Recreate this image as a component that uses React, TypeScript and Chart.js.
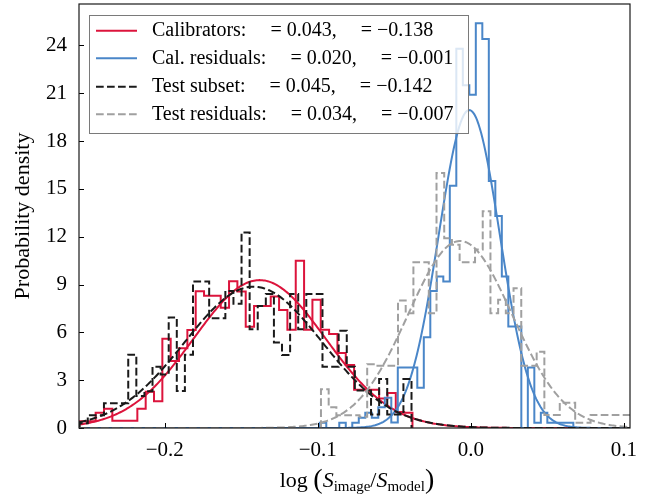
import React, { useEffect, useRef } from 'react';
import { Chart, registerables } from 'chart.js';

Chart.register(...registerables);

// ---- axis ranges ----
const X_MIN = -0.256;
const X_MAX = 0.104;
const Y_MAX = 26.6;
const X_STEP = 0.1;
const Y_STEP = 3;

// ---- legend text ----
const LABELS = ['Calibrators:', 'Cal. residuals:', 'Test subset:', 'Test residuals:'];
const SIGMAS = [0.043, 0.02, 0.045, 0.034];
const MUS = [-0.138, -0.001, -0.142, -0.007];

// ---- histograms (start edge, bin width, density per bin) ----
const CAL_START = -0.25601;
const CAL_WIDTH = 0.005447;
const CAL_HEIGHTS = [0.42, 0.42, 0.95, 1.2, 0.45, 0.45, 0.45, 1.2, 2.28, 1.68, 5.6, 4.2, 5.0, 6.15, 8.58, 8.3, 8.3, 7.55, 9.2, 8.56, 6.35, 7.66, 7.66, 8.25, 7.4, 6.16, 10.5, 6.16, 8.05, 6.16, 5.9, 4.7, 3.96, 2.4, 2.4, 2.4, 1.85, 2.2, 1.0, 0.95];

const RES_START = -0.09869;
const RES_WIDTH = 0.004248;
const RES_HEIGHTS = [0.33, 0, 0, 0.33, 0, 0.33, 0.65, 0.95, 0.65, 1.3, 1.9, 0.35, 3.8, 3.8, 3.8, 2.53, 5.7, 8.6, 9.5, 9.19, 15.2, 23.8, 21.5, 20.9, 25.4, 24.4, 15.5, 13.3, 9.5, 6.36, 6.36, 0, 3.79, 0.33, 0.96, 0.33, 0.33, 0.33, 0.33];

const TEST_START = -0.25556;
const TEST_WIDTH = 0.005288;
const TEST_HEIGHTS = [0.3, 0.8, 0.8, 1.55, 1.55, 1.55, 4.6, 2.0, 2.3, 3.85, 3.35, 6.93, 2.32, 4.6, 9.19, 9.19, 6.89, 6.89, 8.6, 7.8, 12.27, 6.2, 7.66, 8.4, 5.36, 4.58, 8.4, 6.2, 8.4, 8.4, 3.85, 3.85, 6.1, 3.85, 2.35, 2.35, 0.85, 3.07, 0.85, 0.85, 3.07];

const TRES_START = -0.09791;
const TRES_WIDTH = 0.005033;
const TRES_HEIGHTS = [2.43, 1.3, 0.8, 0.8, 0.8, 0.7, 4.0, 3.9, 3.9, 3.9, 8.0, 7.2, 10.4, 10.4, 7.2, 16.0, 11.9, 11.5, 10.4, 10.4, 11.2, 13.6, 7.2, 8.04, 7.2, 8.77, 3.9, 3.9, 4.79, 0.82, 0.82, 1.59, 1.59, 0.33, 0.33, 0.82, 0.82, 0.82, 0.82, 0.82, 0.82];

// ---- styles ----
const RED = '#dc143c';
const BLUE = '#4a86c8';
const BLACK = '#1a1a1a';
const GRAY = '#a0a0a0';
const COLORS = [RED, BLUE, BLACK, GRAY];
const DASHED = [false, false, true, true];
const DASH = [7.7, 3.3];
const SERIF = '"Liberation Serif", "Times New Roman", serif';

function stepPoints(start: number, width: number, heights: number[]) {
  const pts: { x: number; y: number }[] = [{ x: start, y: 0 }];
  heights.forEach((h, i) => {
    pts.push({ x: start + i * width, y: h });
    pts.push({ x: start + (i + 1) * width, y: h });
  });
  pts.push({ x: start + heights.length * width, y: 0 });
  return pts;
}

// Normal pdf drawn with the fitted mu and sigma shown in the legend
function normalCurve(mu: number, sigma: number) {
  const pts: { x: number; y: number }[] = [];
  const n = 400;
  for (let i = 0; i <= n; i++) {
    const x = X_MIN + ((X_MAX - X_MIN) * i) / n;
    const z = (x - mu) / sigma;
    pts.push({ x, y: Math.exp(-0.5 * z * z) / (sigma * Math.sqrt(2 * Math.PI)) });
  }
  return pts;
}

const fmtNum = (v: number, d: number) => {
  const s = Math.abs(v) < 1e-9 ? (0).toFixed(d) : v.toFixed(d);
  return s.replace('-', '\u2212');
};

const framePlugin = {
  id: 'frameTicks',
  afterDraw(chart: any) {
    const { ctx, chartArea } = chart;
    const { left, right, top, bottom } = chartArea;
    ctx.save();
    ctx.strokeStyle = '#000';
    ctx.lineWidth = 1;
    // inward ticks
    const xs = chart.scales.x;
    const ys = chart.scales.y;
    ctx.beginPath();
    xs.ticks.forEach((t: any) => {
      const p = Math.round(xs.getPixelForValue(t.value)) + 0.5;
      ctx.moveTo(p, bottom);
      ctx.lineTo(p, bottom - 5);
    });
    ys.ticks.forEach((t: any) => {
      const p = Math.round(ys.getPixelForValue(t.value)) + 0.5;
      ctx.moveTo(left, p);
      ctx.lineTo(left + 5, p);
    });
    ctx.stroke();
    // frame
    ctx.lineWidth = 1.2;
    ctx.strokeStyle = '#1a1a1a';
    ctx.strokeRect(left, top, right - left, bottom - top);

    // x axis title: log (S_image / S_model)
    const parts = [
      { t: 'log', f: `22px ${SERIF}`, dy: 0 },
      { t: ' ', f: `22px ${SERIF}`, dy: 0 },
      { t: '(', f: `28px ${SERIF}`, dy: 1 },
      { t: 'S', f: `italic 22px ${SERIF}`, dy: 0 },
      { t: 'image', f: `15px ${SERIF}`, dy: 4 },
      { t: '/', f: `22px ${SERIF}`, dy: 0 },
      { t: 'S', f: `italic 22px ${SERIF}`, dy: 0 },
      { t: 'model', f: `15px ${SERIF}`, dy: 4 },
      { t: ')', f: `28px ${SERIF}`, dy: 1 },
    ];
    let total = 0;
    const widths = parts.map((p) => {
      ctx.font = p.f;
      const w = ctx.measureText(p.t).width;
      total += w;
      return w;
    });
    let x = 357 - total / 2;
    const base = 487;
    ctx.fillStyle = '#000';
    ctx.textBaseline = 'alphabetic';
    ctx.textAlign = 'left';
    parts.forEach((p, i) => {
      ctx.font = p.f;
      ctx.fillText(p.t, x, base + p.dy);
      x += widths[i];
    });

    // legend
    const lx = 89, ly = 15, lw = 379, lh = 118;
    ctx.fillStyle = 'rgba(255,255,255,0.8)';
    ctx.fillRect(lx, ly, lw, lh);
    ctx.strokeStyle = '#7a7a7a';
    ctx.lineWidth = 1;
    ctx.strokeRect(lx + 0.5, ly + 0.5, lw, lh);
    const rowY = [30.7, 58.3, 86.7, 114.3];
    LABELS.forEach((lab, i) => {
      const y = rowY[i];
      ctx.beginPath();
      ctx.strokeStyle = COLORS[i];
      ctx.lineWidth = 2;
      ctx.setLineDash(DASHED[i] ? DASH : []);
      ctx.moveTo(96, y);
      ctx.lineTo(137, y);
      ctx.stroke();
      ctx.setLineDash([]);
      ctx.font = `20px ${SERIF}`;
      ctx.fillStyle = '#000';
      ctx.textBaseline = 'middle';
      let tx = 152;
      ctx.fillText(lab, tx, y);
      tx += ctx.measureText(lab).width + 24;
      const s1 = `= ${fmtNum(SIGMAS[i], 3)},`;
      ctx.fillText(s1, tx, y);
      tx += ctx.measureText(s1).width + 24;
      ctx.fillText(`= ${fmtNum(MUS[i], 3)}`, tx, y);
    });
    ctx.restore();
  },
};

export default function App() {
  const ref = useRef<HTMLCanvasElement | null>(null);
  useEffect(() => {
    if (!ref.current) return;
    const line = (data: any[], color: string, dashed: boolean) => ({
      data,
      borderColor: color,
      backgroundColor: color,
      borderWidth: 2,
      borderDash: dashed ? DASH : [],
      showLine: true,
      pointRadius: 0,
      fill: false,
      tension: 0,
    });
    const chart = new Chart(ref.current, {
      type: 'scatter',
      data: {
        datasets: [
          line(normalCurve(MUS[3], SIGMAS[3]), GRAY, true),
          line(stepPoints(TRES_START, TRES_WIDTH, TRES_HEIGHTS), GRAY, true),
          line(normalCurve(MUS[2], SIGMAS[2]), BLACK, true),
          line(stepPoints(TEST_START, TEST_WIDTH, TEST_HEIGHTS), BLACK, true),
          line(normalCurve(MUS[1], SIGMAS[1]), BLUE, false),
          line(stepPoints(RES_START, RES_WIDTH, RES_HEIGHTS), BLUE, false),
          line(normalCurve(MUS[0], SIGMAS[0]), RED, false),
          line(stepPoints(CAL_START, CAL_WIDTH, CAL_HEIGHTS), RED, false),
        ] as any,
      },
      options: {
        animation: false,
        responsive: false,
        devicePixelRatio: 1,
        layout: { padding: { top: 4, right: 18, bottom: 0, left: 0 } },
        plugins: { legend: { display: false }, tooltip: { enabled: false } },
        scales: {
          x: {
            type: 'linear',
            min: X_MIN,
            max: X_MAX,
            grid: { display: false, drawTicks: false },
            border: { display: false },
            ticks: {
              stepSize: X_STEP,
              includeBounds: false,
              autoSkip: false,
              maxRotation: 0,
              padding: 10,
              color: '#000',
              font: { family: SERIF, size: 21 },
              callback: (v: any) => fmtNum(Number(v), 1),
            },
            afterFit: (s: any) => {
              s.height = 68;
              s.paddingLeft = 0;
              s.paddingRight = 0;
            },
          },
          y: {
            min: 0,
            max: Y_MAX,
            grid: { display: false, drawTicks: false },
            border: { display: false },
            ticks: {
              stepSize: Y_STEP,
              includeBounds: false,
              padding: 12,
              color: '#000',
              font: { family: SERIF, size: 21 },
              callback: (v: any) => String(v),
            },
            title: {
              display: true,
              text: 'Probability density',
              color: '#000',
              font: { family: SERIF, size: 22 },
              padding: { top: 10, bottom: 0 },
            },
            afterFit: (s: any) => {
              s.width = 79;
              s.paddingTop = 0;
              s.paddingBottom = 0;
            },
          },
        },
      } as any,
      plugins: [framePlugin],
    });
    return () => chart.destroy();
  }, []);
  return (
    <div style={{ position: 'fixed', left: 0, top: 0, width: 648, height: 496, background: '#fff' }}>
      <canvas ref={ref} width={648} height={496} style={{ display: 'block' }} />
    </div>
  );
}
